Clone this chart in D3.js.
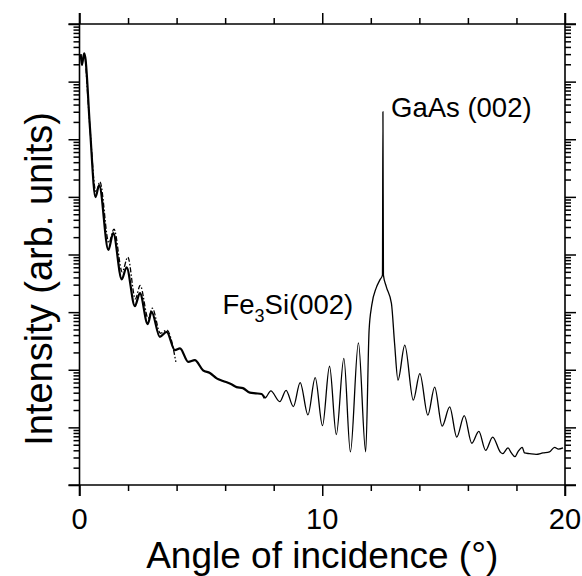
<!DOCTYPE html>
<html>
<head>
<meta charset="utf-8">
<script src="https://cdn.jsdelivr.net/npm/d3@7"></script>
<style>
  body { margin: 0; background: #fff; }
  text { font-family: "Liberation Sans", Arial, Helvetica, sans-serif; fill: #000; }
</style>
</head>
<body>
<div id="chart"></div>
<script>
// measured scan, low angle part (drawn thick)
var lowAngle = [0.05, 0.1, 0.19, 0.24, 0.43, 0.66, 0.81, 1.19, 1.39, 1.74, 1.94, 2.28, 2.49, 2.81, 2.97, 3.31, 3.59, 3.93, 4.14, 4.48, 4.75, 5.09, 5.37, 5.65, 5.91, 6.26, 6.47, 6.73, 7.02, 7.26, 7.5, 7.63];
var lowIntensity = [3.0e7, 1.94e7, 3.1e7, 2.6e7, 1.6e6, 9.9e4, 1.6e5, 1.2e4, 2.35e4, 3.7e3, 6.0e3, 1.27e3, 2.14e3, 620, 1010, 372, 455, 219, 234, 137, 147, 98, 88, 71, 64, 56, 50, 48, 40, 39, 38, 32];

// measured scan, high angle part (drawn thin)
var highAngle = [7.63, 7.7, 7.88, 8.25, 8.51, 8.81, 9.09, 9.41, 9.71, 10.01, 10.3, 10.58, 10.89, 11.16, 11.49, 11.79, 11.93, 12.04, 12.22, 12.37, 12.48, 12.5, 12.52, 12.64, 12.85, 12.98, 13.12, 13.4, 13.75, 14.02, 14.35, 14.63, 14.94, 15.25, 15.54, 15.85, 16.16, 16.45, 16.73, 17.02, 17.34, 17.43, 17.65, 17.79, 17.94, 18.06, 18.24, 18.33, 18.54, 18.81, 19.09, 19.36, 19.57, 19.73, 19.92];
var highIntensity = [32, 34, 43, 28, 44, 23, 60, 16.5, 73, 10.7, 115, 7.5, 157, 3.76, 293, 3.76, 487, 1320, 2610, 3590, 4400, 3.0e6, 4400, 2750, 1416, 286, 66, 267, 29.7, 86, 16.3, 50, 10.5, 22.7, 6.8, 16, 5.3, 8.5, 4.0, 6.8, 3.7, 3.5, 4.4, 3.6, 3.1, 3.76, 4.5, 3.6, 3.5, 3.4, 3.6, 3.76, 4.5, 4.2, 4.4];

// simulation (dash-dot)
var simAngle = [0.24, 0.43, 0.68, 0.84, 1.21, 1.42, 1.76, 1.99, 2.3, 2.5, 2.83, 3.0, 3.33, 3.6, 3.97];
var simIntensity = [2.6e7, 1.6e6, 1.2e5, 1.83e5, 1.6e4, 2.76e4, 5.0e3, 9.0e3, 1.7e3, 2.9e3, 780, 1170, 430, 487, 137];

var xMajor = [0, 10, 20];
var xMinor = [2, 4, 6, 8, 12, 14, 16, 18];
var yDomain = [1, 1e8];

var margin = {top: 24, right: 17, bottom: 91, left: 79.5};
var W = 582, H = 576;
var width = W - margin.left - margin.right;
var height = H - margin.top - margin.bottom;

var svg = d3.select("#chart").append("svg")
  .attr("width", W)
  .attr("height", H);

var g = svg.append("g")
  .attr("transform", "translate(" + margin.left + "," + margin.top + ")");

var x = d3.scaleLinear().domain([0, 20]).range([0, width]);
var y = d3.scaleLog().domain(yDomain).range([height, 0]);

var yMajor = y.ticks().filter(function(d){ return Math.abs(Math.log10(d) - Math.round(Math.log10(d))) < 1e-6; });
var yMinor = y.ticks().filter(function(d){ return yMajor.indexOf(d) < 0; });

function tickAxis(axis, values, len) {
  return axis.tickValues(values).tickSize(len).tickFormat("");
}

function drawAxis(sel) {
  sel.selectAll("path").remove();
  sel.selectAll("line").attr("stroke", "#000").attr("stroke-width", 1.5);
}

// ticks on all four sides, pointing outward
g.append("g").attr("transform", "translate(0," + height + ")").call(tickAxis(d3.axisBottom(x), xMajor, 11)).call(drawAxis);
g.append("g").attr("transform", "translate(0," + height + ")").call(tickAxis(d3.axisBottom(x), xMinor, 6)).call(drawAxis);
g.append("g").call(tickAxis(d3.axisTop(x), xMajor, 11)).call(drawAxis);
g.append("g").call(tickAxis(d3.axisTop(x), xMinor, 6)).call(drawAxis);
g.append("g").call(tickAxis(d3.axisLeft(y), yMajor, 11)).call(drawAxis);
g.append("g").call(tickAxis(d3.axisLeft(y), yMinor, 6)).call(drawAxis);
g.append("g").attr("transform", "translate(" + width + ",0)").call(tickAxis(d3.axisRight(y), yMajor, 11)).call(drawAxis);
g.append("g").attr("transform", "translate(" + width + ",0)").call(tickAxis(d3.axisRight(y), yMinor, 6)).call(drawAxis);

// frame, each side running past the corners
var ext = 11;
g.append("line").attr("x1", -ext).attr("x2", width + ext).attr("y1", 0).attr("y2", 0);
g.append("line").attr("x1", -ext).attr("x2", width + ext).attr("y1", height).attr("y2", height);
g.append("line").attr("x1", 0).attr("x2", 0).attr("y1", -ext).attr("y2", height + ext);
g.append("line").attr("x1", width).attr("x2", width).attr("y1", -ext).attr("y2", height + ext);
g.selectAll(":scope > line").attr("stroke", "#000").attr("stroke-width", 1.6);

// x tick labels
g.selectAll(".xlab")
  .data(xMajor)
  .enter().append("text")
  .attr("class", "xlab")
  .attr("x", function(d){ return x(d); })
  .attr("y", height + 44)
  .attr("text-anchor", "middle")
  .style("font-size", "29px")
  .text(function(d){ return d; });

g.append("text")
  .attr("x", width / 2)
  .attr("y", height + 83)
  .attr("text-anchor", "middle")
  .style("font-size", "37px")
  .text("Angle of incidence (\u00B0)");

svg.append("text")
  .attr("transform", "translate(52,279) rotate(-90)")
  .attr("text-anchor", "middle")
  .style("font-size", "38px")
  .text("Intensity (arb. units)");

// curves
var line = d3.line()
  .x(function(d){ return x(d[0]); })
  .y(function(d){ return y(d[1]); })
  .curve(d3.curveMonotoneX);

var low = d3.zip(lowAngle, lowIntensity);
var high = d3.zip(highAngle, highIntensity);
var sim = d3.zip(simAngle, simIntensity);

g.append("path").datum(sim)
  .attr("d", line)
  .attr("fill", "none")
  .attr("stroke", "#000")
  .attr("stroke-width", 1.3)
  .attr("stroke-dasharray", "5,2,1.5,2");

g.append("path").datum(low)
  .attr("d", line)
  .attr("fill", "none")
  .attr("stroke", "#000")
  .attr("stroke-width", 2.2)
  .attr("stroke-linejoin", "round");

g.append("path").datum(high)
  .attr("d", line)
  .attr("fill", "none")
  .attr("stroke", "#000")
  .attr("stroke-width", 1.3)
  .attr("stroke-linejoin", "round");

// peak labels
g.append("text")
  .attr("x", 311.5)
  .attr("y", 93)
  .style("font-size", "27.5px")
  .text("GaAs (002)");

var fe = g.append("text")
  .attr("x", 143)
  .attr("y", 290)
  .style("font-size", "27.5px");
fe.append("tspan").text("Fe");
fe.append("tspan").attr("dy", 8).style("font-size", "18px").text("3");
fe.append("tspan").attr("dy", -8).text("Si(002)");
</script>
</body>
</html>
